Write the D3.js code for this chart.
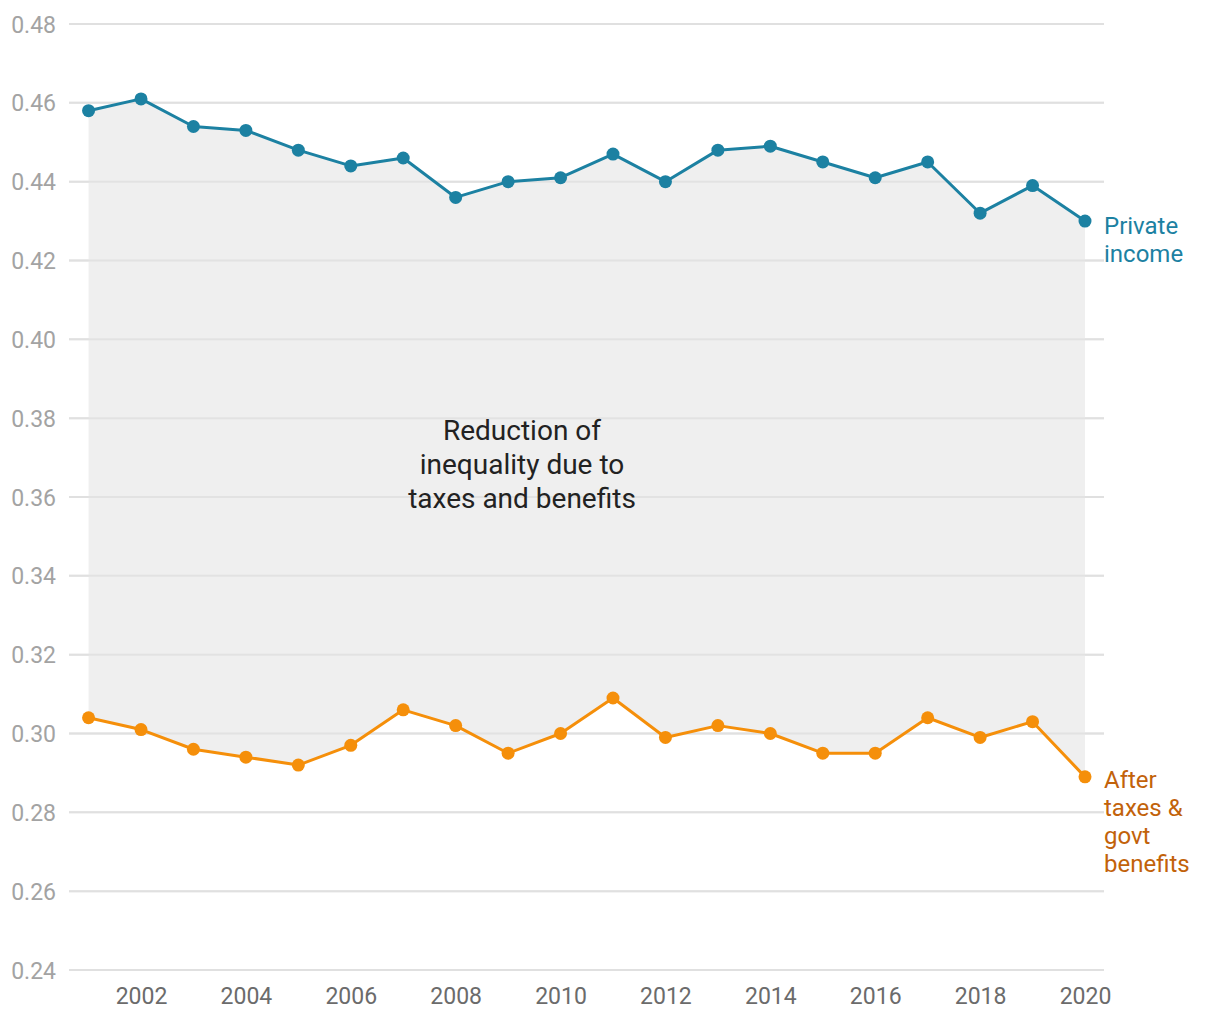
<!DOCTYPE html>
<html><head><meta charset="utf-8">
<script src="https://cdn.jsdelivr.net/npm/d3@7"></script>
<style>body{margin:0;background:#fff;font-family:Roboto,sans-serif;}</style>
</head><body><svg id="c" width="1220" height="1020"></svg>
<script>
const years = [2001,2002,2003,2004,2005,2006,2007,2008,2009,2010,2011,2012,2013,2014,2015,2016,2017,2018,2019,2020];
const privateIncome = [0.458,0.461,0.454,0.453,0.448,0.444,0.446,0.436,0.440,0.441,0.447,0.440,0.448,0.449,0.445,0.441,0.445,0.432,0.439,0.430];
const afterTaxes = [0.304,0.301,0.296,0.294,0.292,0.297,0.306,0.302,0.295,0.300,0.309,0.299,0.302,0.300,0.295,0.295,0.304,0.299,0.303,0.289];
const yTicks = [0.24,0.26,0.28,0.30,0.32,0.34,0.36,0.38,0.40,0.42,0.44,0.46,0.48];
const xTicks = [2002,2004,2006,2008,2010,2012,2014,2016,2018,2020];
const privateLabel = ["Private","income"];
const afterLabel = ["After","taxes &","govt","benefits"];
const annotation = ["Reduction of","inequality due to","taxes and benefits"];

const svg = d3.select("#c");
const x = d3.scaleLinear().domain([2002,2020]).range([141,1085]);
const y = d3.scaleLinear().domain([0.24,0.48]).range([970,24]);
const gridX0 = 69, gridX1 = 1104;

svg.append("g").selectAll("line").data(yTicks).join("line")
  .attr("x1",gridX0).attr("x2",gridX1)
  .attr("y1",d=>y(d)).attr("y2",d=>y(d))
  .attr("stroke","#e3e3e3").attr("stroke-width",2);

const data = years.map((yr,i)=>({yr,p:privateIncome[i],a:afterTaxes[i]}));
svg.append("path").datum(data)
  .attr("d",d3.area().x(d=>x(d.yr)).y0(d=>y(d.a)).y1(d=>y(d.p)))
  .attr("fill","#efefef");
svg.append("g").selectAll("line").data(yTicks).join("line")
  .attr("x1",gridX0).attr("x2",gridX1)
  .attr("y1",d=>y(d)).attr("y2",d=>y(d))
  .attr("stroke","#e0e0e0").attr("stroke-width",2).attr("opacity",0.8);

const yAxis = d3.axisLeft(y).tickValues(yTicks).tickFormat(d3.format(".2f")).tickSize(0).tickPadding(0);
const gy = svg.append("g").attr("transform","translate(56,0)").call(yAxis);
gy.select(".domain").remove();
gy.selectAll("text").attr("fill","#a3a3a3").attr("font-size",23).attr("font-family","Roboto").attr("dy","0.35em");

const xAxis = d3.axisBottom(x).tickValues(xTicks).tickFormat(d3.format("d")).tickSize(0).tickPadding(0);
const gx = svg.append("g").attr("transform","translate(0,988)").call(xAxis);
gx.select(".domain").remove();
gx.selectAll("text").attr("fill","#6b6b6b").attr("font-size",23).attr("font-family","Roboto").attr("dy","0.71em");

function series(vals,color){
  svg.append("path").datum(vals)
    .attr("d",d3.line().x((d,i)=>x(years[i])).y(d=>y(d)))
    .attr("fill","none").attr("stroke",color).attr("stroke-width",3).attr("stroke-linejoin","round");
  svg.append("g").selectAll("circle").data(vals).join("circle")
    .attr("cx",(d,i)=>x(years[i])).attr("cy",d=>y(d)).attr("r",6.5).attr("fill",color);
}
series(privateIncome,"#1c81a2");
series(afterTaxes,"#f58f0a");

function label(lines,x0,y0,color){
  const t = svg.append("text").attr("x",x0).attr("y",y0).attr("fill",color)
    .attr("font-size",24).attr("font-family","Roboto");
  lines.forEach((l,i)=>t.append("tspan").attr("x",x0).attr("dy",i?28:0).text(l));
}
label(privateLabel,1104,234,"#1c81a2");
label(afterLabel,1104,788,"#c2620a");

const at = svg.append("text").attr("x",522).attr("y",440).attr("fill","#222")
  .attr("font-size",28).attr("font-family","Roboto").attr("text-anchor","middle");
annotation.forEach((l,i)=>at.append("tspan").attr("x",522).attr("dy",i?34:0).text(l));
</script></body></html>
